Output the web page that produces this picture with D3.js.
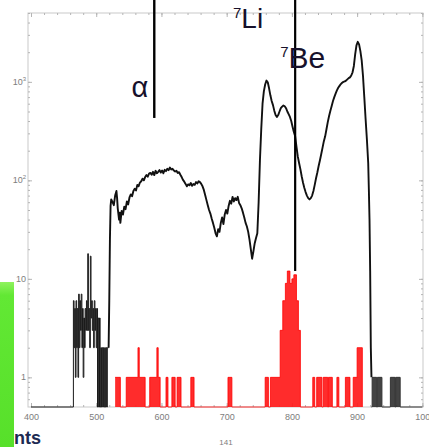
<!DOCTYPE html>
<html>
<head>
<meta charset="utf-8">
<script src="https://cdn.jsdelivr.net/npm/d3@7"></script>
<style>
  html, body { margin: 0; padding: 0; background: #fff; overflow: hidden; }
  svg { display: block; }
</style>
</head>
<body>
<svg id="chart" width="429" height="447"></svg>
<script>
// ---- data -------------------------------------------------------------
// x-axis tick values (channel / energy) and their labels
const xTickValues = [400, 500, 600, 700, 800, 900, 1000];
const xTickLabels = ["400", "500", "600", "700", "800", "900", "100"];

// y-axis decades and labels as [base, exponent]
const yTickValues = [1, 10, 100, 1000];
const yTickLabels = [["1", ""], ["10", ""], ["10", "2"], ["10", "3"]];

// low-channel noise histogram, [bin start, counts]
const lowBins = [
  [400, 0], [465, 6], [466, 2], [467, 5], [468, 1], [469, 6], [470, 2],
  [471, 5], [472, 1], [473, 7], [474, 2], [475, 6], [476, 3], [477, 7],
  [478, 2], [479, 5], [480, 1], [481, 4], [482, 2], [483, 5], [484, 3],
  [485, 6], [486, 3], [487, 18], [488, 3], [489, 5], [490, 2], [491, 17],
  [492, 4], [493, 6], [494, 3], [495, 5], [496, 2], [497, 6], [498, 3],
  [499, 5], [500, 2], [501, 5], [502, 0], [503, 4], [504, 0], [505, 4],
  [506, 0], [507, 2], [508, 0], [509, 2], [510, 0], [511, 2], [512, 0],
  [513, 2], [514, 0], [515, 2], [516, 0], [517, 2], [518, 2], [519, 2]
];

// total spectrum (alpha continuum + 7Li / 7Be peaks), [channel, counts]
const spectrum = [
  [519, 2], [520, 6], [521, 25], [522, 55], [523, 64], [525, 60], [527, 56],
  [529, 70], [531, 78], [532, 66], [533, 52], [535, 40], [536, 47], [537, 37],
  [539, 49], [541, 45], [543, 54], [545, 51], [547, 61], [549, 57], [551, 67],
  [553, 72], [555, 69], [557, 78], [559, 82], [561, 79], [563, 90], [565, 87],
  [567, 95], [569, 98], [571, 104], [573, 100], [575, 108], [577, 113],
  [579, 109], [581, 117], [583, 119], [585, 114], [587, 122], [589, 113],
  [591, 125], [593, 118], [595, 122], [597, 127], [599, 120], [601, 126],
  [603, 118], [605, 128], [607, 124], [609, 131], [611, 127], [613, 135],
  [615, 129], [617, 131], [619, 126], [621, 123], [623, 125], [625, 119],
  [627, 121], [629, 114], [631, 108], [633, 101], [635, 97], [637, 92],
  [639, 87], [641, 91], [643, 89], [645, 94], [647, 88], [649, 92], [651, 90],
  [653, 96], [655, 93], [657, 98], [659, 96], [661, 92], [663, 87], [665, 80],
  [667, 71], [669, 63], [671, 56], [673, 50], [675, 46], [677, 41], [679, 37],
  [681, 33], [683, 29], [685, 27], [687, 32], [689, 30], [691, 37], [693, 42],
  [695, 36], [697, 45], [699, 50], [701, 46], [703, 55], [705, 62], [707, 58],
  [709, 68], [711, 61], [713, 66], [715, 63], [717, 68], [719, 59], [721, 56],
  [723, 52], [725, 47], [727, 42], [729, 37], [731, 34], [733, 30], [735, 25],
  [737, 20], [739, 16], [741, 19], [743, 23], [745, 26], [747, 29], [749, 60],
  [751, 160], [753, 330], [755, 600], [757, 800], [759, 940], [761, 1030],
  [763, 990], [765, 860], [767, 730], [769, 640], [771, 580], [773, 510],
  [775, 460], [777, 440], [779, 460], [781, 500], [783, 540], [785, 560],
  [787, 575], [789, 565], [791, 540], [793, 500], [795, 470], [797, 440],
  [799, 400], [801, 350], [803, 310], [805, 280], [807, 220], [809, 175],
  [811, 150], [813, 130], [815, 110], [817, 95], [819, 84], [821, 76],
  [823, 70], [825, 66], [827, 64], [829, 66], [831, 70], [833, 78], [835, 90],
  [837, 105], [839, 120], [841, 140], [843, 160], [845, 185], [847, 215],
  [849, 250], [851, 280], [853, 330], [855, 390], [857, 450], [859, 510],
  [861, 570], [863, 640], [865, 700], [867, 760], [869, 820], [871, 870],
  [873, 910], [875, 950], [877, 980], [879, 1000], [881, 1010], [883, 1030],
  [885, 1060], [887, 1090], [889, 1110], [891, 1160], [893, 1250], [895, 1450],
  [897, 1900], [899, 2350], [901, 2550], [903, 2400], [905, 2050], [907, 1650],
  [909, 1150], [911, 700], [913, 420], [915, 260], [917, 150], [918, 80],
  [919, 40], [920, 12], [921, 2], [922, 1]
];

// high-channel tail histogram, [bin start, counts]
const tailBins = [
  [922, 0], [923, 1], [930, 0], [931, 1], [938, 0], [951, 1], [958, 0],
  [959, 1], [966, 0], [1000, 0]
];

// coincidence-gated histogram (red), [bin start, counts]
const gatedBins = [
  [529, 1], [537, 0], [546, 1], [564, 2], [566, 1], [575, 0], [582, 1],
  [593, 2], [595, 1], [598, 0], [607, 1], [610, 0], [616, 1], [621, 0],
  [624, 1], [630, 0], [645, 1], [650, 0], [702, 1], [708, 0], [759, 1],
  [764, 0], [767, 1], [782, 3], [786, 6], [790, 9], [793, 12], [797, 9],
  [800, 10], [803, 11], [807, 6], [810, 3], [813, 0], [832, 1], [835, 0],
  [838, 1], [846, 0], [848, 1], [855, 0], [856, 1], [862, 0], [869, 1],
  [872, 0], [882, 1], [889, 0], [894, 1], [900, 2], [908, 0]
];

// peak markers: channel, upper count where the marker stops
const markerAlpha = { channel: 589, upTo: 430 };
const markerBe = { channel: 805, upTo: 12 };

// ---- layout -----------------------------------------------------------
const svg = d3.select("#chart");
const frame = { left: 28, right: 423, top: 13, bottom: 407 };

const x = d3.scaleLinear().domain([395.4, 1001]).range([frame.left, frame.right]);
const y = d3.scaleLog().domain([0.5, 5000]).range([frame.bottom, frame.top]);
const yc = n => y(Math.max(n, 0.5));

const axisGrey = "#c9c9c9";
const labelGrey = "#7d7d7d";
const ink = "#17112b";
const font = "Liberation Sans, Arial, sans-serif";

// frame
svg.append("rect")
  .attr("x", frame.left).attr("y", frame.top)
  .attr("width", frame.right - frame.left).attr("height", frame.bottom - frame.top)
  .attr("fill", "none").attr("stroke", axisGrey).attr("stroke-width", 1);

// inward ticks on all four sides
const minorX = d3.range(400, 1001, 20);
const axisBottom = d3.axisBottom(x).tickValues(minorX).tickSize(-2).tickFormat("");
const axisTop = d3.axisTop(x).tickValues(minorX).tickSize(-2).tickFormat("");
const axisBottomMajor = d3.axisBottom(x).tickValues(xTickValues)
  .tickSize(-4).tickPadding(7).tickFormat((d, i) => xTickLabels[i]);
const axisTopMajor = d3.axisTop(x).tickValues(xTickValues).tickSize(-4).tickFormat("");

const minorY = [0.6, 0.7, 0.8, 0.9];
for (let dec = 1; dec <= 1000; dec *= 10)
  for (let k = 1; k <= 9; k++) if (dec * k <= 5000) minorY.push(dec * k);
const axisLeft = d3.axisLeft(y).tickValues(minorY).tickSize(-2).tickFormat("");
const axisRight = d3.axisRight(y).tickValues(minorY).tickSize(-2).tickFormat("");
const axisLeftMajor = d3.axisLeft(y).tickValues(yTickValues).tickSize(-4).tickFormat("");
const axisRightMajor = d3.axisRight(y).tickValues(yTickValues).tickSize(-4).tickFormat("");

function styleAxis(g) {
  g.select(".domain").remove();
  g.selectAll(".tick line").attr("stroke", "#b5b5b5");
  g.selectAll(".tick text")
    .attr("fill", labelGrey)
    .attr("font-family", font)
    .attr("font-size", 9);
}

svg.append("g").attr("transform", `translate(0,${frame.bottom})`).call(axisBottom).call(styleAxis);
svg.append("g").attr("transform", `translate(0,${frame.bottom})`).call(axisBottomMajor).call(styleAxis);
svg.append("g").attr("transform", `translate(0,${frame.top})`).call(axisTop).call(styleAxis);
svg.append("g").attr("transform", `translate(0,${frame.top})`).call(axisTopMajor).call(styleAxis);
svg.append("g").attr("transform", `translate(${frame.left},0)`).call(axisLeft).call(styleAxis);
svg.append("g").attr("transform", `translate(${frame.left},0)`).call(axisLeftMajor).call(styleAxis);
svg.append("g").attr("transform", `translate(${frame.right},0)`).call(axisRight).call(styleAxis);
svg.append("g").attr("transform", `translate(${frame.right},0)`).call(axisRightMajor).call(styleAxis);

// y labels with superscript exponents
const yLab = svg.append("g").attr("font-family", font).attr("fill", labelGrey);
yTickValues.forEach((v, i) => {
  const t = yLab.append("text")
    .attr("x", frame.left - 2)
    .attr("y", y(v) + 3)
    .attr("text-anchor", "end")
    .attr("font-size", 9);
  t.append("tspan").text(yTickLabels[i][0]);
  if (yTickLabels[i][1]) {
    t.append("tspan").attr("dy", -4).attr("font-size", 6).text(yTickLabels[i][1]);
  }
});

// ---- spectra ----------------------------------------------------------
const stepLine = d3.line().x(d => x(d[0])).y(d => yc(d[1])).curve(d3.curveStepAfter);
const stepArea = d3.area().x(d => x(d[0])).y0(frame.bottom).y1(d => yc(d[1])).curve(d3.curveStepAfter);

// gated (red) histogram
svg.append("path").datum(gatedBins)
  .attr("d", stepArea)
  .attr("fill", "#ff1a1a").attr("fill-opacity", 0.92);
svg.append("path").datum(gatedBins)
  .attr("d", stepLine)
  .attr("fill", "none").attr("stroke", "#ff0000").attr("stroke-width", 0.8);

// low-channel noise
svg.append("path").datum(lowBins)
  .attr("d", stepLine)
  .attr("fill", "none").attr("stroke", "#1a1a1a").attr("stroke-width", 1);

// high-channel tail
svg.append("path").datum(tailBins)
  .attr("d", stepArea)
  .attr("fill", "#222").attr("fill-opacity", 0.85);
svg.append("path").datum(tailBins)
  .attr("d", stepLine)
  .attr("fill", "none").attr("stroke", "#333").attr("stroke-width", 1);

// main spectrum
svg.append("path").datum(spectrum)
  .attr("d", d3.line().x(d => x(d[0])).y(d => yc(d[1])))
  .attr("fill", "none").attr("stroke", "#111")
  .attr("stroke-width", 1.9).attr("stroke-linejoin", "round");

// ---- peak markers & labels ---------------------------------------------
svg.append("line")
  .attr("x1", x(markerAlpha.channel)).attr("x2", x(markerAlpha.channel))
  .attr("y1", 0).attr("y2", y(markerAlpha.upTo))
  .attr("stroke", "#000").attr("stroke-width", 2.4);
svg.append("line")
  .attr("x1", x(markerBe.channel)).attr("x2", x(markerBe.channel))
  .attr("y1", 0).attr("y2", y(markerBe.upTo))
  .attr("stroke", "#000").attr("stroke-width", 2.2);

const labels = svg.append("g").attr("font-family", font).attr("fill", ink);

labels.append("text")
  .attr("x", x(markerAlpha.channel) - 6).attr("y", 97)
  .attr("text-anchor", "end").attr("font-size", 29)
  .text("α");

const li = labels.append("text")
  .attr("x", x(762) - 4).attr("y", 28)
  .attr("text-anchor", "end").attr("font-size", 28);
li.append("tspan").attr("font-size", 15).attr("dy", -10).text("7");
li.append("tspan").attr("dy", 10).text("Li");

const be = labels.append("text")
  .attr("x", x(markerBe.channel) - 15).attr("y", 68)
  .attr("font-size", 30);
be.append("tspan").attr("font-size", 15).attr("dy", -11).text("7");
be.append("tspan").attr("dy", 11).text("Be");

// axis caption fragments
svg.append("text")
  .attr("x", 226).attr("y", 445)
  .attr("text-anchor", "middle")
  .attr("font-family", font)
  .attr("font-size", 8).attr("fill", labelGrey)
  .text("141");

svg.append("text")
  .attr("x", 14).attr("y", 444)
  .attr("font-family", font)
  .attr("font-weight", "bold").attr("font-size", 18)
  .attr("fill", "#1c2a52")
  .text("nts");

// green side panel
const grad = svg.append("defs").append("linearGradient")
  .attr("id", "greenPanel").attr("x1", 0).attr("y1", 0).attr("x2", 0).attr("y2", 1);
grad.append("stop").attr("offset", "0%").attr("stop-color", "#8ff25e");
grad.append("stop").attr("offset", "8%").attr("stop-color", "#62e834");
grad.append("stop").attr("offset", "100%").attr("stop-color", "#57e02a");
svg.append("rect")
  .attr("x", 0).attr("y", 282).attr("width", 14).attr("height", 165)
  .attr("fill", "url(#greenPanel)");
</script>
</body>
</html>
